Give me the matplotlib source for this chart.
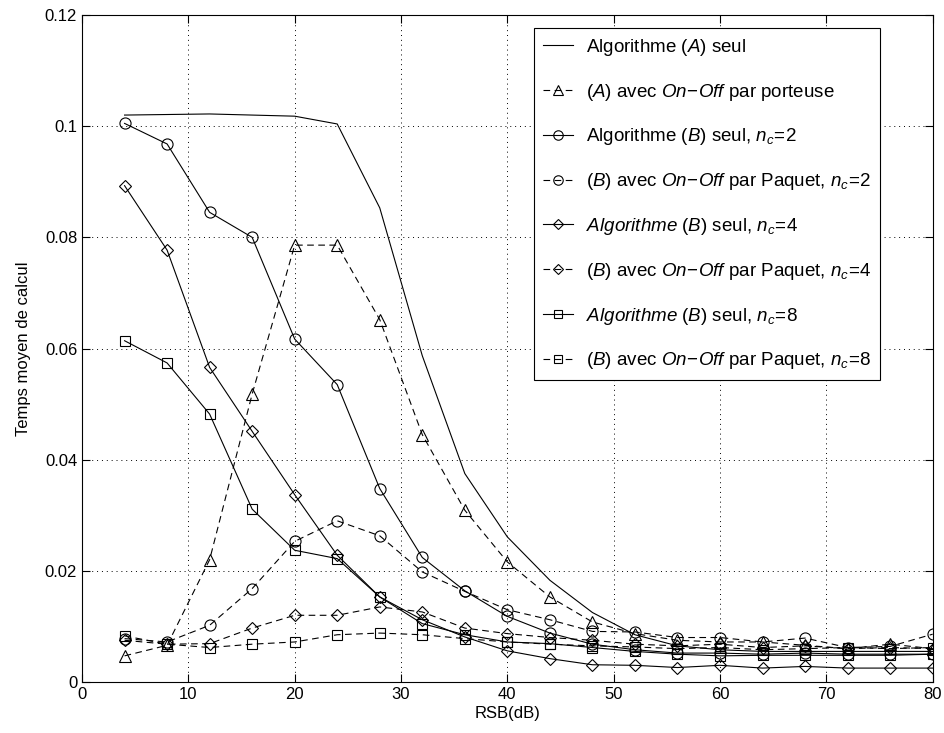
import numpy as np
import matplotlib
matplotlib.use('Agg')
import matplotlib.pyplot as plt

plt.rcParams['font.family'] = ['Liberation Sans', 'DejaVu Sans']
plt.rcParams['mathtext.fontset'] = 'custom'
plt.rcParams['mathtext.rm'] = 'Liberation Sans'
plt.rcParams['mathtext.it'] = 'Liberation Sans:italic'
plt.rcParams['mathtext.bf'] = 'Liberation Sans:bold'

# RSB (dB)
rsb = [4, 8, 12, 16, 20, 24, 28, 32, 36, 40, 44, 48, 52, 56, 60, 64, 68, 72, 76, 80]

# Temps moyen de calcul
a_seul = [0.1020, 0.1021, 0.1022, 0.1020, 0.1018, 0.1004, 0.0853, 0.0587, 0.0375, 0.0261,
          0.0183, 0.0125, 0.0085, 0.0065, 0.0058, 0.0055, 0.0055, 0.0055, 0.0055, 0.0055]
a_onoff = [0.0047, 0.0066, 0.0220, 0.0518, 0.0786, 0.0786, 0.0652, 0.0445, 0.0309, 0.0216,
           0.0153, 0.0108, 0.0087, 0.0075, 0.0072, 0.0072, 0.0066, 0.0060, 0.0068, 0.0060]
b2_seul = [0.1005, 0.0968, 0.0845, 0.0800, 0.0617, 0.0535, 0.0348, 0.0224, 0.0164, 0.0118,
           0.0088, 0.0068, 0.0058, 0.0052, 0.0052, 0.0050, 0.0052, 0.0050, 0.0050, 0.0050]
b2_paquet = [0.0078, 0.0072, 0.0102, 0.0168, 0.0253, 0.0290, 0.0263, 0.0198, 0.0163, 0.0130,
             0.0112, 0.0091, 0.0090, 0.0080, 0.0080, 0.0072, 0.0079, 0.0062, 0.0064, 0.0086]
b4_seul = [0.0893, 0.0777, 0.0566, 0.0451, 0.0337, 0.0228, 0.0153, 0.0112, 0.0081, 0.0056,
           0.0042, 0.0031, 0.0030, 0.0026, 0.0030, 0.0025, 0.0028, 0.0025, 0.0025, 0.0025]
b4_paquet = [0.0075, 0.0068, 0.0069, 0.0097, 0.0120, 0.0120, 0.0135, 0.0126, 0.0097, 0.0087,
             0.0080, 0.0075, 0.0068, 0.0065, 0.0068, 0.0062, 0.0065, 0.0060, 0.0062, 0.0060]
b8_seul = [0.0614, 0.0574, 0.0482, 0.0311, 0.0237, 0.0222, 0.0153, 0.0105, 0.0085, 0.0072,
           0.0069, 0.0062, 0.0055, 0.0050, 0.0047, 0.0048, 0.0048, 0.0048, 0.0048, 0.0050]
b8_paquet = [0.0083, 0.0068, 0.0062, 0.0068, 0.0072, 0.0085, 0.0088, 0.0085, 0.0078, 0.0072,
             0.0068, 0.0065, 0.0063, 0.0060, 0.0062, 0.0058, 0.0060, 0.0062, 0.0060, 0.0062]

labels = [
    r'Algorithme $\mathit{(A)}$ seul',
    r'$\mathit{(A)}$ avec $\mathit{On\!-\!Off}$ par porteuse',
    r'Algorithme $\mathit{(B)}$ seul, $\mathit{n_c\!=\!2}$',
    r'$\mathit{(B)}$ avec $\mathit{On\!-\!Off}$ par Paquet, $\mathit{n_c\!=\!2}$',
    r'$\mathit{Algorithme\ (B)}$ seul, $\mathit{n_c\!=\!4}$',
    r'$\mathit{(B)}$ avec $\mathit{On\!-\!Off}$ par Paquet, $\mathit{n_c\!=\!4}$',
    r'$\mathit{Algorithme\ (B)}$ seul, $\mathit{n_c\!=\!8}$',
    r'$\mathit{(B)}$ avec $\mathit{On\!-\!Off}$ par Paquet, $\mathit{n_c\!=\!8}$',
]

dash = (0, (6, 4))
series = [
    (a_seul, '-', None, 8),
    (a_onoff, dash, '^', 8),
    (b2_seul, '-', 'o', 8),
    (b2_paquet, dash, 'o', 8),
    (b4_seul, '-', 'D', 6),
    (b4_paquet, dash, 'D', 6),
    (b8_seul, '-', 's', 6.5),
    (b8_paquet, dash, 's', 6.5),
]

fs = 12

fig = plt.figure(figsize=(9.44, 7.33), dpi=100)
ax = fig.add_axes([0.0869, 0.0696, 0.9011, 0.9099])

for (vals, ls, mk, ms), lab in zip(series, labels):
    ax.plot(rsb, vals, color='black', linestyle=ls, linewidth=0.8,
            marker=mk, markersize=ms, markerfacecolor='none',
            markeredgecolor='black', markeredgewidth=0.8, label=lab)

ax.set_xlim(0, 80)
ax.set_ylim(0, 0.12)
ax.set_xticks(np.arange(0, 81, 10))
ax.set_yticks(np.arange(0, 0.121, 0.02))
ax.set_yticklabels(['0', '0.02', '0.04', '0.06', '0.08', '0.1', '0.12'])
ax.tick_params(direction='in', top=True, right=True, labelsize=fs, length=6)
ax.grid(True, linestyle=(0, (1, 4)), color='black', linewidth=0.7)
ax.set_xlabel('RSB(dB)', fontsize=fs, labelpad=3)
ax.set_ylabel('Temps moyen de calcul', fontsize=fs, labelpad=10)
for s in ax.spines.values():
    s.set_linewidth(0.8)

leg = ax.legend(loc='upper right', bbox_to_anchor=(0.938, 0.980), fontsize=13.5,
                fancybox=False, edgecolor='black', framealpha=1, labelspacing=1.27,
                handlelength=1.6, handletextpad=0.7, borderpad=0.45, borderaxespad=0,
                markerscale=0.85)
leg.get_frame().set_linewidth(0.8)

fig.savefig('out.png', dpi=100)
